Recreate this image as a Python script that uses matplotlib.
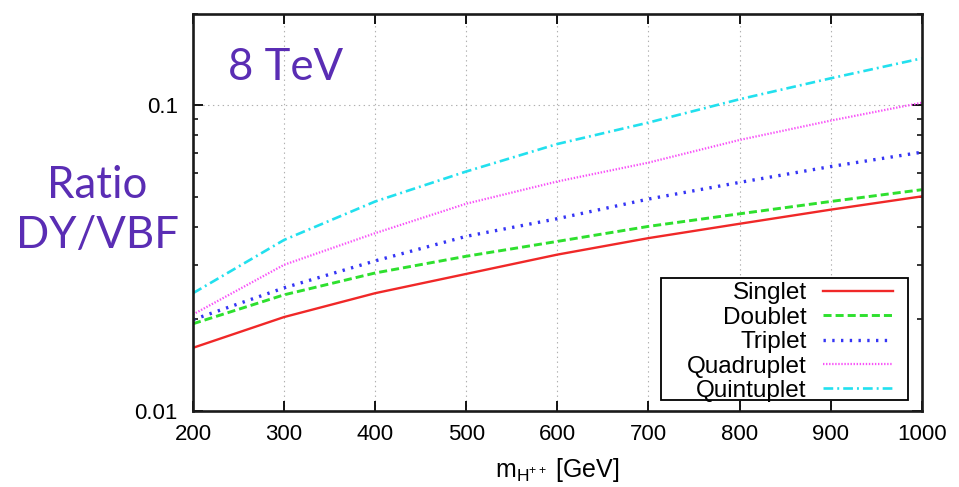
import matplotlib
matplotlib.use("Agg")
import matplotlib.pyplot as plt
from matplotlib.ticker import LogLocator, NullFormatter, FixedLocator
from matplotlib.patches import Rectangle

plt.rcParams['font.family'] = ['Liberation Sans', 'DejaVu Sans']
plt.rcParams['mathtext.fontset'] = 'custom'
plt.rcParams['mathtext.rm'] = 'Liberation Sans'
plt.rcParams['mathtext.it'] = 'Liberation Sans'
plt.rcParams['lines.scale_dashes'] = False

# ---- data ----
mass = [200, 300, 400, 500, 600, 700, 800, 900, 1000]
singlet = [0.0161, 0.0203, 0.0243, 0.0281, 0.0325, 0.0368, 0.0410, 0.0456, 0.0504]
doublet = [0.0193, 0.0240, 0.0283, 0.0321, 0.0359, 0.0402, 0.0442, 0.0485, 0.0530]
triplet = [0.0199, 0.0253, 0.0310, 0.0373, 0.0426, 0.0494, 0.0560, 0.0631, 0.0703]
quadruplet = [0.0207, 0.0301, 0.0382, 0.0477, 0.0564, 0.0650, 0.0771, 0.0892, 0.1021]
quintuplet = [0.0243, 0.0363, 0.0485, 0.0608, 0.0748, 0.0879, 0.1048, 0.1227, 0.1426]
series_names = ["Singlet", "Doublet", "Triplet", "Quadruplet", "Quintuplet"]
xticks = [200, 300, 400, 500, 600, 700, 800, 900, 1000]
yticks = [0.01, 0.1]
ytick_labels = ["0.01", "0.1"]

W, H = 959, 487
fig = plt.figure(figsize=(W / 100, H / 100), dpi=100)
ax = fig.add_axes([193 / W, 1 - 411 / H, (921.7 - 193) / W, (411 - 13.5) / H])

styles = [
    dict(color='#f02828', lw=1.7, ls='-'),
    dict(color='#2ee02e', lw=2.1, dashes=(5.8, 2.9)),
    dict(color='#3535f5', lw=2.4, dashes=(1.7, 4.6)),
    dict(color='#f850f8', lw=1.6, dashes=(1.0, 1.2)),
    dict(color='#22e0ee', lw=1.9, dashes=(7.0, 2.9, 1.4, 2.9)),
]
for name, vals, st in zip(series_names, [singlet, doublet, triplet, quadruplet, quintuplet], styles):
    ax.plot(mass, vals, label=name, **st)

ax.set_yscale('log')
ax.set_xlim(200, 1000)
ax.set_ylim(0.01, 0.2)
ax.set_xticks(xticks)
ax.set_xticklabels([str(v) for v in xticks])
ax.yaxis.set_major_locator(FixedLocator(yticks))
ax.set_yticklabels(ytick_labels)
ax.yaxis.set_minor_locator(LogLocator(base=10, subs=[2, 3, 4, 5, 6, 7, 8, 9]))
ax.yaxis.set_minor_formatter(NullFormatter())

ax.tick_params(axis='both', which='major', direction='in', length=7, width=1.3,
               top=True, right=True, labelsize=16, colors='black')
ax.tick_params(axis='x', which='major', pad=9)
ax.tick_params(axis='y', which='major', pad=11)
ax.tick_params(axis='y', which='minor', direction='in', length=3.5, width=1.1, right=True)
for s in ax.spines.values():
    s.set_linewidth(1.9)
    s.set_color('#1a1a1a')

ax.grid(True, which='major', color='#b0b0b0', lw=0.8, dashes=(1, 2.5))
ax.set_axisbelow(True)

ax.set_xlabel(r'm$_{\mathregular{H}^{\mathregular{++}}}$ [GeV]', fontsize=18, labelpad=8)

# legend box (gnuplot style: wide left margin, labels right-aligned)
ax.add_patch(Rectangle((661 / W, 1 - 400 / H), (908 - 661) / W, (400 - 277.7) / H,
                       transform=fig.transFigure, fill=True, facecolor='white',
                       edgecolor='black', lw=1.3, zorder=4.5, clip_on=False))
leg = ax.legend(loc='lower right', bbox_to_anchor=(893 / W, 1 - 402 / H),
                bbox_transform=fig.transFigure, borderaxespad=0, frameon=False,
                markerfirst=False, fontsize=17.5, handlelength=2.9, handletextpad=0.65,
                labelspacing=0.1, borderpad=0)
leg.set_zorder(6)

purple = '#5a2db4'
fig.text(228 / W, 1 - 80 / H, '8 TeV', color=purple, fontsize=31.5, family='Lato',
         ha='left', va='baseline')
fig.text(97 / W, 1 - 198 / H, 'Ratio', color=purple, fontsize=31.5, family='Lato',
         ha='center', va='baseline')
fig.text(97 / W, 1 - 248 / H, 'DY/VBF', color=purple, fontsize=31.5, family='Lato',
         ha='center', va='baseline')

fig.savefig('out.png', dpi=100)
